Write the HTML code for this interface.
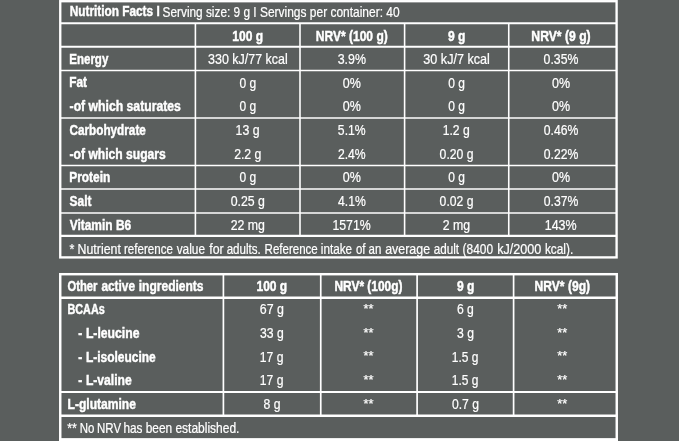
<!DOCTYPE html>
<html lang="en"><head><meta charset="utf-8"><title>Nutrition Facts</title>
<style>html,body{margin:0;padding:0;background:#5a5e5d;overflow:hidden}svg{display:block}text{font-family:"Liberation Sans", sans-serif;font-size:14.5px;fill:#fff;stroke:#fff;stroke-width:0.22px;white-space:pre}.b{font-weight:bold;stroke-width:0.45px}line{stroke:#fff}rect{fill:none;stroke:#fff}</style></head><body>
<svg width="679" height="441" viewBox="0 0 679 441">
<rect x="0" y="0" width="679" height="441" style="fill:#5a5e5d;stroke:none"/>
<rect x="60.25" y="1.2" width="556.35" height="256.20" stroke-width="2.35"/>
<line x1="60.25" x2="616.6" y1="23.3" y2="23.3" stroke-width="2.1"/>
<line x1="60.25" x2="616.6" y1="46.7" y2="46.7" stroke-width="2.1"/>
<line x1="60.25" x2="616.6" y1="70.4" y2="70.4" stroke-width="1.5"/>
<line x1="60.25" x2="616.6" y1="117.95" y2="117.95" stroke-width="1.6"/>
<line x1="60.25" x2="616.6" y1="165.55" y2="165.55" stroke-width="1.6"/>
<line x1="60.25" x2="616.6" y1="189.05" y2="189.05" stroke-width="1.6"/>
<line x1="60.25" x2="616.6" y1="212.95" y2="212.95" stroke-width="1.6"/>
<line x1="60.25" x2="616.6" y1="235.9" y2="235.9" stroke-width="2.3"/>
<line x1="195.4" x2="195.4" y1="23.3" y2="235.9" stroke-width="1.6"/>
<line x1="300.0" x2="300.0" y1="23.3" y2="235.9" stroke-width="1.6"/>
<line x1="404.6" x2="404.6" y1="23.3" y2="235.9" stroke-width="1.6"/>
<line x1="508.75" x2="508.75" y1="23.3" y2="235.9" stroke-width="1.6"/>
<rect x="60.25" y="274.2" width="556.50" height="165.60" stroke-width="2.45"/>
<line x1="60.25" x2="616.75" y1="297.7" y2="297.7" stroke-width="2.4"/>
<line x1="60.25" x2="616.75" y1="392.0" y2="392.0" stroke-width="1.8"/>
<line x1="60.25" x2="616.75" y1="415.75" y2="415.75" stroke-width="2.3"/>
<line x1="223.4" x2="223.4" y1="274.2" y2="415.75" stroke-width="1.7"/>
<line x1="320.75" x2="320.75" y1="274.2" y2="415.75" stroke-width="1.7"/>
<line x1="417.1" x2="417.1" y1="274.2" y2="415.75" stroke-width="1.7"/>
<line x1="513.6" x2="513.6" y1="274.2" y2="415.75" stroke-width="1.7"/>
<rect x="59.05" y="438.2" width="558.9" height="2.8" style="fill:#fff;stroke:none"/>
<text class="b" x="69.71" y="16.00" textLength="89.98" lengthAdjust="spacingAndGlyphs">Nutrition Facts I</text>
<text x="162.58" y="16.50" textLength="93.94" lengthAdjust="spacingAndGlyphs">Serving size: 9 g I</text>
<text x="259.98" y="16.50" textLength="139.62" lengthAdjust="spacingAndGlyphs">Servings per container: 40</text>
<text class="b" x="232.35" y="40.50" textLength="30.77" lengthAdjust="spacingAndGlyphs">100 g</text>
<text class="b" x="315.77" y="40.50" textLength="71.98" lengthAdjust="spacingAndGlyphs">NRV* (100 g)</text>
<text class="b" x="448.01" y="40.50" textLength="17.43" lengthAdjust="spacingAndGlyphs">9 g</text>
<text class="b" x="531.37" y="40.50" textLength="59.29" lengthAdjust="spacingAndGlyphs">NRV* (9 g)</text>
<text class="b" x="69.22" y="63.50" textLength="39.12" lengthAdjust="spacingAndGlyphs">Energy</text>
<text x="208.09" y="64.00" textLength="79.57" lengthAdjust="spacingAndGlyphs">330 kJ/77 kcal</text>
<text x="337.72" y="64.00" textLength="28.26" lengthAdjust="spacingAndGlyphs">3.9%</text>
<text x="423.34" y="64.00" textLength="66.52" lengthAdjust="spacingAndGlyphs">30 kJ/7 kcal</text>
<text x="543.60" y="64.00" textLength="34.78" lengthAdjust="spacingAndGlyphs">0.35%</text>
<text class="b" x="69.21" y="87.16" textLength="17.74" lengthAdjust="spacingAndGlyphs">Fat</text>
<text x="239.53" y="87.66" textLength="16.70" lengthAdjust="spacingAndGlyphs">0 g</text>
<text x="342.87" y="87.66" textLength="18.07" lengthAdjust="spacingAndGlyphs">0%</text>
<text x="448.23" y="87.66" textLength="16.70" lengthAdjust="spacingAndGlyphs">0 g</text>
<text x="551.97" y="87.66" textLength="18.07" lengthAdjust="spacingAndGlyphs">0%</text>
<text class="b" x="69.58" y="111.12" textLength="111.27" lengthAdjust="spacingAndGlyphs">-of which saturates</text>
<text x="239.53" y="111.12" textLength="16.70" lengthAdjust="spacingAndGlyphs">0 g</text>
<text x="342.87" y="111.12" textLength="18.07" lengthAdjust="spacingAndGlyphs">0%</text>
<text x="448.23" y="111.12" textLength="16.70" lengthAdjust="spacingAndGlyphs">0 g</text>
<text x="551.97" y="111.12" textLength="18.07" lengthAdjust="spacingAndGlyphs">0%</text>
<text class="b" x="69.53" y="134.68" textLength="76.31" lengthAdjust="spacingAndGlyphs">Carbohydrate</text>
<text x="235.55" y="135.08" textLength="23.96" lengthAdjust="spacingAndGlyphs">13 g</text>
<text x="337.86" y="135.08" textLength="27.77" lengthAdjust="spacingAndGlyphs">5.1%</text>
<text x="442.69" y="135.08" textLength="27.09" lengthAdjust="spacingAndGlyphs">1.2 g</text>
<text x="543.72" y="135.08" textLength="34.55" lengthAdjust="spacingAndGlyphs">0.46%</text>
<text class="b" x="69.59" y="158.74" textLength="96.23" lengthAdjust="spacingAndGlyphs">-of which sugars</text>
<text x="234.14" y="158.74" textLength="27.28" lengthAdjust="spacingAndGlyphs">2.2 g</text>
<text x="337.93" y="158.74" textLength="27.77" lengthAdjust="spacingAndGlyphs">2.4%</text>
<text x="439.62" y="158.74" textLength="33.88" lengthAdjust="spacingAndGlyphs">0.20 g</text>
<text x="543.72" y="158.74" textLength="34.55" lengthAdjust="spacingAndGlyphs">0.22%</text>
<text class="b" x="69.20" y="181.70" textLength="41.18" lengthAdjust="spacingAndGlyphs">Protein</text>
<text x="239.53" y="182.10" textLength="16.70" lengthAdjust="spacingAndGlyphs">0 g</text>
<text x="342.87" y="182.10" textLength="18.07" lengthAdjust="spacingAndGlyphs">0%</text>
<text x="448.23" y="182.10" textLength="16.70" lengthAdjust="spacingAndGlyphs">0 g</text>
<text x="551.97" y="182.10" textLength="18.07" lengthAdjust="spacingAndGlyphs">0%</text>
<text class="b" x="69.61" y="206.06" textLength="21.82" lengthAdjust="spacingAndGlyphs">Salt</text>
<text x="230.72" y="206.06" textLength="34.26" lengthAdjust="spacingAndGlyphs">0.25 g</text>
<text x="338.07" y="206.06" textLength="27.77" lengthAdjust="spacingAndGlyphs">4.1%</text>
<text x="439.62" y="206.06" textLength="33.88" lengthAdjust="spacingAndGlyphs">0.02 g</text>
<text x="543.72" y="206.06" textLength="34.55" lengthAdjust="spacingAndGlyphs">0.37%</text>
<text class="b" x="69.70" y="229.52" textLength="61.51" lengthAdjust="spacingAndGlyphs">Vitamin B6</text>
<text x="230.64" y="229.82" textLength="34.34" lengthAdjust="spacingAndGlyphs">22 mg</text>
<text x="332.40" y="229.82" textLength="38.43" lengthAdjust="spacingAndGlyphs">1571%</text>
<text x="442.79" y="229.82" textLength="27.38" lengthAdjust="spacingAndGlyphs">2 mg</text>
<text x="544.74" y="229.82" textLength="31.89" lengthAdjust="spacingAndGlyphs">143%</text>
<text y="253.58"><tspan x="69.50" textLength="4.92" lengthAdjust="spacingAndGlyphs">*</tspan> <tspan x="77.53" textLength="43.31" lengthAdjust="spacingAndGlyphs">Nutrient</tspan> <tspan x="123.90" textLength="49.03" lengthAdjust="spacingAndGlyphs">reference</tspan> <tspan x="176.67" textLength="28.38" lengthAdjust="spacingAndGlyphs">value</tspan> <tspan x="209.25" textLength="14.43" lengthAdjust="spacingAndGlyphs">for</tspan> <tspan x="226.70" textLength="34.10" lengthAdjust="spacingAndGlyphs">adults.</tspan> <tspan x="264.59" textLength="53.16" lengthAdjust="spacingAndGlyphs">Reference</tspan> <tspan x="320.79" textLength="31.31" lengthAdjust="spacingAndGlyphs">intake</tspan> <tspan x="356.00" textLength="9.55" lengthAdjust="spacingAndGlyphs">of</tspan> <tspan x="368.60" textLength="12.75" lengthAdjust="spacingAndGlyphs">an</tspan> <tspan x="385.18" textLength="44.89" lengthAdjust="spacingAndGlyphs">average</tspan> <tspan x="433.70" textLength="25.32" lengthAdjust="spacingAndGlyphs">adult</tspan> <tspan x="462.55" textLength="30.46" lengthAdjust="spacingAndGlyphs">(8400</tspan> <tspan x="497.19" textLength="44.19" lengthAdjust="spacingAndGlyphs">kJ/2000</tspan> <tspan x="544.88" textLength="28.35" lengthAdjust="spacingAndGlyphs">kcal).</tspan></text>
<text class="b" y="290.55"><tspan x="67.53" textLength="29.93" lengthAdjust="spacingAndGlyphs">Other</tspan> <tspan x="101.40" textLength="33.62" lengthAdjust="spacingAndGlyphs">active</tspan> <tspan x="138.72" textLength="64.85" lengthAdjust="spacingAndGlyphs">ingredients</tspan></text>
<text class="b" x="256.45" y="290.55" textLength="30.77" lengthAdjust="spacingAndGlyphs">100 g</text>
<text class="b" x="334.45" y="290.55" textLength="68.00" lengthAdjust="spacingAndGlyphs">NRV* (100g)</text>
<text class="b" x="456.91" y="290.55" textLength="17.43" lengthAdjust="spacingAndGlyphs">9 g</text>
<text class="b" x="534.55" y="290.55" textLength="55.51" lengthAdjust="spacingAndGlyphs">NRV* (9g)</text>
<text class="b" x="67.45" y="314.45" textLength="37.34" lengthAdjust="spacingAndGlyphs">BCAAs</text>
<text x="259.78" y="314.45" textLength="24.16" lengthAdjust="spacingAndGlyphs">67 g</text>
<text style="font-size:12.1px" x="363.50" y="313.35" textLength="10.03" lengthAdjust="spacingAndGlyphs">**</text>
<text x="456.95" y="314.45" textLength="16.94" lengthAdjust="spacingAndGlyphs">6 g</text>
<text style="font-size:12.1px" x="557.20" y="313.35" textLength="10.03" lengthAdjust="spacingAndGlyphs">**</text>
<text class="b" y="337.85"><tspan x="78.19" textLength="4.01" lengthAdjust="spacingAndGlyphs">-</tspan> <tspan x="85.89" textLength="53.66" lengthAdjust="spacingAndGlyphs">L-leucine</tspan></text>
<text x="260.04" y="337.85" textLength="23.72" lengthAdjust="spacingAndGlyphs">33 g</text>
<text style="font-size:12.1px" x="363.50" y="336.75" textLength="10.03" lengthAdjust="spacingAndGlyphs">**</text>
<text x="457.00" y="337.85" textLength="16.94" lengthAdjust="spacingAndGlyphs">3 g</text>
<text style="font-size:12.1px" x="557.20" y="336.75" textLength="10.03" lengthAdjust="spacingAndGlyphs">**</text>
<text class="b" y="361.50"><tspan x="78.19" textLength="4.01" lengthAdjust="spacingAndGlyphs">-</tspan> <tspan x="85.90" textLength="69.80" lengthAdjust="spacingAndGlyphs">L-isoleucine</tspan></text>
<text x="259.77" y="361.50" textLength="23.72" lengthAdjust="spacingAndGlyphs">17 g</text>
<text style="font-size:12.1px" x="363.50" y="360.40" textLength="10.03" lengthAdjust="spacingAndGlyphs">**</text>
<text x="451.85" y="361.50" textLength="26.58" lengthAdjust="spacingAndGlyphs">1.5 g</text>
<text style="font-size:12.1px" x="557.20" y="360.40" textLength="10.03" lengthAdjust="spacingAndGlyphs">**</text>
<text class="b" y="385.15"><tspan x="78.19" textLength="4.01" lengthAdjust="spacingAndGlyphs">-</tspan> <tspan x="85.89" textLength="45.88" lengthAdjust="spacingAndGlyphs">L-valine</tspan></text>
<text x="259.77" y="385.15" textLength="23.72" lengthAdjust="spacingAndGlyphs">17 g</text>
<text style="font-size:12.1px" x="363.50" y="384.05" textLength="10.03" lengthAdjust="spacingAndGlyphs">**</text>
<text x="451.85" y="385.15" textLength="26.58" lengthAdjust="spacingAndGlyphs">1.5 g</text>
<text style="font-size:12.1px" x="557.20" y="384.05" textLength="10.03" lengthAdjust="spacingAndGlyphs">**</text>
<text class="b" x="67.50" y="409.35" textLength="68.47" lengthAdjust="spacingAndGlyphs">L-glutamine</text>
<text x="263.49" y="409.35" textLength="16.94" lengthAdjust="spacingAndGlyphs">8 g</text>
<text style="font-size:12.1px" x="363.50" y="408.25" textLength="10.03" lengthAdjust="spacingAndGlyphs">**</text>
<text x="451.88" y="409.35" textLength="27.09" lengthAdjust="spacingAndGlyphs">0.7 g</text>
<text style="font-size:12.1px" x="557.20" y="408.25" textLength="10.03" lengthAdjust="spacingAndGlyphs">**</text>
<text y="433.05"><tspan x="67.29" textLength="9.56" lengthAdjust="spacingAndGlyphs">**</tspan> <tspan x="79.79" textLength="14.65" lengthAdjust="spacingAndGlyphs">No</tspan> <tspan x="97.06" textLength="23.98" lengthAdjust="spacingAndGlyphs">NRV</tspan> <tspan x="123.39" textLength="19.03" lengthAdjust="spacingAndGlyphs">has</tspan> <tspan x="145.68" textLength="26.52" lengthAdjust="spacingAndGlyphs">been</tspan> <tspan x="175.38" textLength="64.07" lengthAdjust="spacingAndGlyphs">established.</tspan></text>
</svg></body></html>
